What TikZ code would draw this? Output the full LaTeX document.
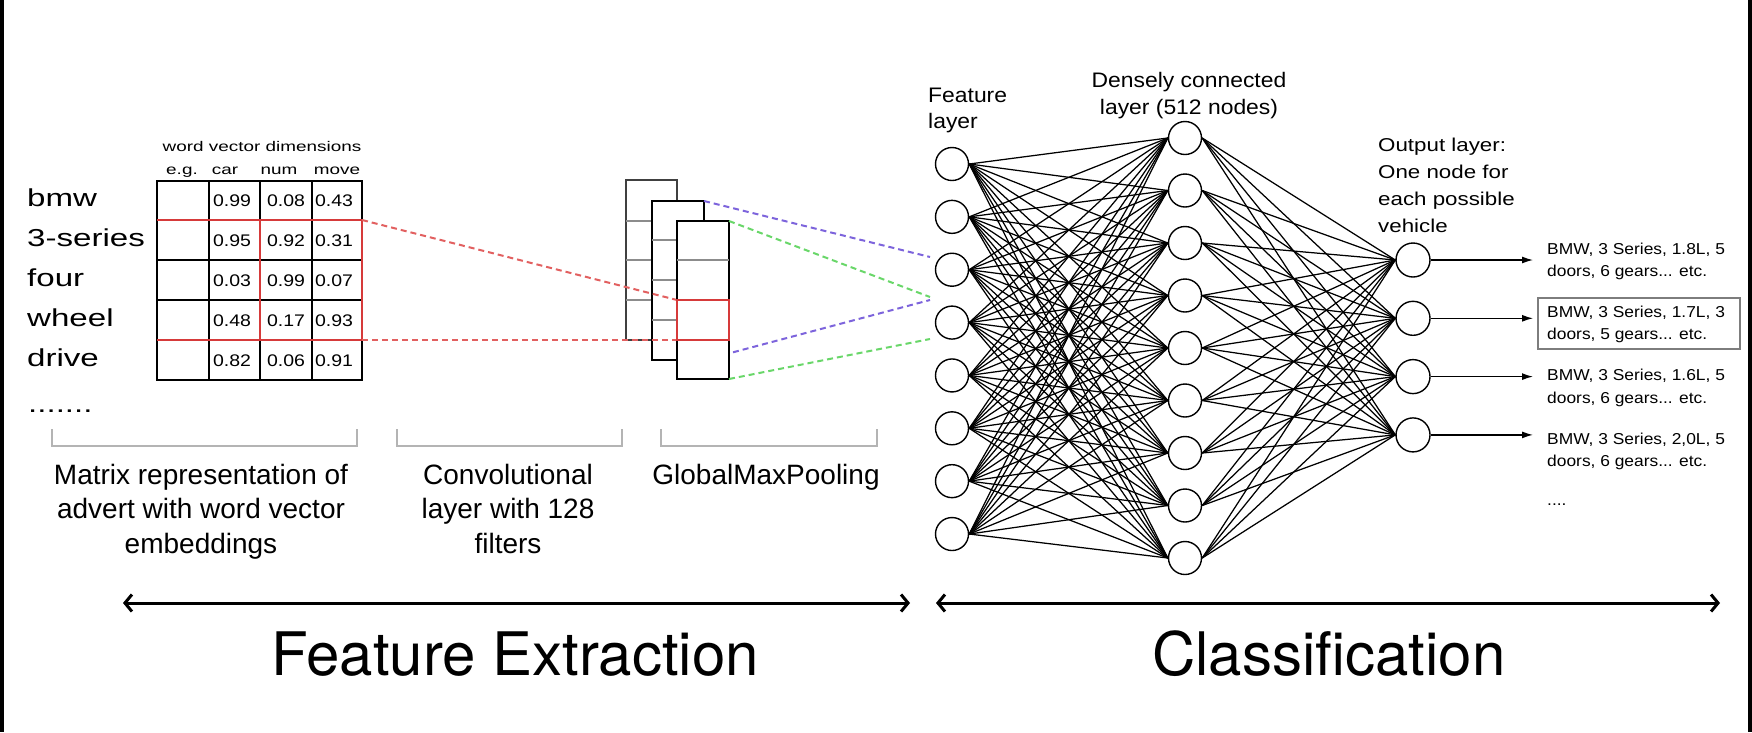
\documentclass[tikz,border=0pt]{standalone}
\usepackage{fontspec}
\setmainfont{Liberation Sans}
\newfontfamily\herosfont{TeX Gyre Heros}
\newfontfamily\wordfont[FakeStretch=1.35]{Liberation Sans}
\newfontfamily\numfont[FakeStretch=1.16]{Liberation Sans}
\newfontfamily\labfont[FakeStretch=1.09]{Liberation Sans}
\newfontfamily\olfont[FakeStretch=1.2]{Liberation Sans}
\newfontfamily\carfont[FakeStretch=1.1]{Liberation Sans}
\usetikzlibrary{arrows.meta}
\definecolor{redln}{RGB}{214,58,58}
\definecolor{reddash}{RGB}{226,96,96}
\definecolor{purp}{RGB}{125,100,220}
\definecolor{grn}{RGB}{105,215,105}
\definecolor{brk}{RGB}{180,180,180}
\definecolor{boxgray}{RGB}{125,125,125}
\begin{document}
\begin{tikzpicture}[x=1pt,y=-1pt,
  neuron/.style={circle,draw=black,line width=1.4pt,fill=white,minimum size=33pt,inner sep=0pt},
  wire/.style={line width=1.25pt,black},
  gridl/.style={line width=1.8pt,black},
  thinl/.style={line width=1.4pt,black!45},
  redl/.style={line width=2.6pt,redln},
  dsh/.style={line width=2pt,dash pattern=on 6pt off 4pt},
  hdr/.style={font=\wordfont\fontsize{14}{16}\selectfont,inner sep=0pt},
  word/.style={font=\wordfont\fontsize{24.5}{28}\selectfont,inner sep=0pt},
  num/.style={font=\numfont\fontsize{16.8}{18}\selectfont,inner sep=0pt},
  lab/.style={font=\labfont\fontsize{21}{24}\selectfont,inner sep=0pt},
  ollab/.style={font=\olfont\fontsize{18.6}{22}\selectfont,inner sep=0pt,anchor=base west},
  car/.style={font=\carfont\fontsize{15.8}{18}\selectfont,inner sep=0pt,anchor=base west},
  capt/.style={font=\fontsize{28}{32}\selectfont,inner sep=0pt,anchor=base},
  bigcapt/.style={font=\herosfont\fontsize{60}{70}\selectfont,inner sep=0pt,anchor=base},
  brack/.style={line width=1.5pt,brk},
  bigarrow/.style={line width=3pt,{Straight Barb[length=7pt,width=17pt]}-{Straight Barb[length=7pt,width=17pt]}},
  outarrow/.style={line width=1.3pt,-{Latex[length=11pt,width=7pt]}}
]
\useasboundingbox (0,0) rectangle (1752,732);
\fill[white] (0,0) rectangle (1752,732);
\fill[black] (0,0) rectangle (4,732);
\fill[black] (1748,0) rectangle (1752,732);

% ---------- matrix header ----------
\node[hdr,anchor=base] (hd) at (262,151) {word vector dimensions};
\node[hdr,anchor=base] (heg) at (182,174) {e.g.};
\node[hdr,anchor=base] (hcar) at (225,174) {car};
\node[hdr,anchor=base] (hnum) at (279,174) {num};
\node[hdr,anchor=base] (hmove) at (337,174) {move};

% ---------- words ----------
\foreach \i/\w/\y in {1/bmw/206,2/3-series/246,3/four/286,4/wheel/326,5/drive/366}
  \node[word,anchor=base west] (w\i) at (27,\y) {\w};
\node[word,anchor=base west] (wdots) at (28,412) {.......};

% ---------- matrix grid ----------
\draw[gridl] (157,181) rectangle (362,380);
\foreach \y in {220,260,300,340} \draw[gridl] (157,\y) -- (362,\y);
\draw[gridl] (209,181) -- (209,380);
\draw[gridl] (312,181) -- (312,380);
\draw[line width=2.8pt] (260,181) -- (260,380);
\draw[line width=2.8pt] (362,181) -- (362,380);
\draw[redl] (157,220) -- (362,220) (157,340) -- (362,340) (260,220) -- (260,340) (362,220) -- (362,340);
\foreach \r/\y/\a/\b/\c in {1/206/0.99/0.08/0.43,2/246/0.95/0.92/0.31,3/286/0.03/0.99/0.07,4/326/0.48/0.17/0.93,5/366/0.82/0.06/0.91}{
  \node[num,anchor=base] (va\r) at (232,\y) {\a};
  \node[num,anchor=base] (vb\r) at (286,\y) {\b};
  \node[num,anchor=base] (vc\r) at (334,\y) {\c};
}
\coordinate (mtr) at (362,220);
\coordinate (mbr) at (362,340);

% ---------- convolution filters ----------
\draw[line width=2pt,draw=black!75,fill=white] (626,180) rectangle (677,340);
\foreach \y in {221,260,300} \draw[thinl] (626,\y) -- (677,\y);
\draw[line width=2.2pt,fill=white] (652,201) rectangle (704,360);
\foreach \y in {240,280,320} \draw[thinl] (652,\y) -- (704,\y);
\coordinate (rc1) at (677,300);
\coordinate (rc2) at (677,340);
\coordinate (mid1) at (704,201);
\coordinate (mid2) at (704,360);
\coordinate (pe1) at (930,257);
\coordinate (pe2) at (930,300);
\coordinate (ge1) at (930,297);
\coordinate (ge2) at (930,339);
\draw[dsh,reddash] (mtr) -- (rc1);
\draw[dsh,reddash] (mbr) -- (rc2);
\draw[dsh,purp] (mid1) -- (pe1);
\draw[dsh,purp] (mid2) -- (pe2);
\draw[line width=2.4pt,fill=white] (677,221) rectangle (729,379);
\draw[thinl] (677,260) -- (729,260);
\draw[line width=2.4pt,redln] (677,300) rectangle (729,340);
\coordinate (fr1) at (729,221);
\coordinate (fr2) at (729,379);
\draw[dsh,grn] (fr1) -- (ge1);
\draw[dsh,grn] (fr2) -- (ge2);

% ---------- brackets ----------
\draw[brack] (52,429) -- (52,446) -- (357,446) -- (357,429);
\draw[brack] (397,429) -- (397,446) -- (622,446) -- (622,429);
\draw[brack] (661,429) -- (661,446) -- (877,446) -- (877,429);

% ---------- captions ----------
\node[capt] (c1a) at (201,484) {Matrix representation of};
\node[capt] (c1b) at (201,518) {advert with word vector};
\node[capt] (c1c) at (201,553) {embeddings};
\node[capt] (c2a) at (508,484) {Convolutional};
\node[capt] (c2b) at (508,518) {layer with 128};
\node[capt] (c2c) at (508,553) {filters};
\node[capt] (c3a) at (766,484) {GlobalMaxPooling};

% ---------- network ----------
\foreach \i in {1,...,8} \node[neuron] (f\i) at (952,{164+52.86*(\i-1)}) {};
\foreach \j in {1,...,9} \node[neuron] (d\j) at (1185,{138+52.5*(\j-1)}) {};
\foreach \k in {1,...,4} \node[neuron,minimum size=34pt] (o\k) at (1413,{260+58.3*(\k-1)}) {};
\foreach \i in {1,...,8} \foreach \j in {1,...,9} \draw[wire] (f\i.east) -- (d\j.west);
\foreach \j in {1,...,9} \foreach \k in {1,...,4} \draw[wire] (d\j.east) -- (o\k.west);

\node[lab,anchor=base west] (fl1) at (928,102) {Feature};
\node[lab,anchor=base west] (fl2) at (928,128.5) {layer};
\node[lab,anchor=base] (dl1) at (1189,87) {Densely connected};
\node[lab,anchor=base] (dl2) at (1189,114) {layer (512 nodes)};
\node[ollab] (ol1) at (1378,151.7) {Output layer:};
\node[ollab] (ol2) at (1378,178.5) {One node for};
\node[ollab] (ol3) at (1378,205.2) {each possible};
\node[ollab] (ol4) at (1378,232) {vehicle};

% ---------- outputs ----------
\foreach \k in {1,...,4} {
  \coordinate (t\k) at (1533,{260+58.3*(\k-1)});
  \draw[outarrow] (o\k.east) -- (t\k);
}
\node[car] (r1a) at (1547,254) {BMW, 3 Series, 1.8L, 5};
\node[car] (r1b) at (1547,276.5) {doors, 6 gears... etc.};
\node[car] (r2a) at (1547,317.3) {BMW, 3 Series, 1.7L, 3};
\node[car] (r2b) at (1547,339.6) {doors, 5 gears... etc.};
\node[car] (r3a) at (1547,380.7) {BMW, 3 Series, 1.6L, 5};
\node[car] (r3b) at (1547,403) {doors, 6 gears... etc.};
\node[car] (r4a) at (1547,444) {BMW, 3 Series, 2,0L, 5};
\node[car] (r4b) at (1547,466) {doors, 6 gears... etc.};
\node[car] (rdots) at (1547,505) {....};
\draw[line width=2.6pt,boxgray] (1538,298) rectangle (1740,349);

% ---------- bottom arrows ----------
\coordinate (fa1) at (123,603);
\coordinate (fa2) at (910,603);
\coordinate (ca1) at (936,603);
\coordinate (ca2) at (1720,603);
\draw[bigarrow] (fa1) -- (fa2);
\draw[bigarrow] (ca1) -- (ca2);
\node[bigcapt] (fe) at (515,675) {Feature Extraction};
\node[bigcapt] (cl) at (1329,675) {Classification};
\end{tikzpicture}
\end{document}
